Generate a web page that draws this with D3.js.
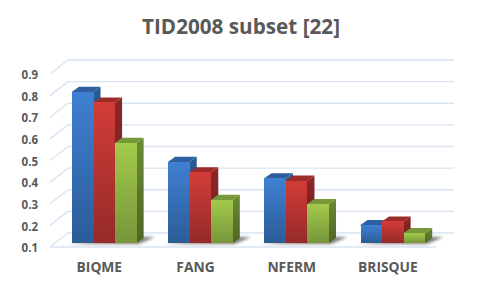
<!DOCTYPE html>
<html>
<head>
<meta charset="utf-8">
<title>TID2008 subset [22]</title>
<script src="https://d3js.org/d3.v7.min.js"></script>
<style>
  html, body { margin: 0; padding: 0; background: #fff; }
  svg { display: block; }
  text { font-family: "Open Sans", sans-serif; fill: #595959; }
</style>
</head>
<body>
<div id="main-container"></div>
<script>
var categories = ['BIQME', 'FANG', 'NFERM', 'BRISQUE'];
var seriesNames = ['a', 'b', 'c'];
var seriesA = [0.80, 0.476, 0.40, 0.183];
var seriesB = [0.75, 0.427, 0.389, 0.20];
var seriesC = [0.564, 0.30, 0.28, 0.146];
var yTicks = [0.1, 0.2, 0.3, 0.4, 0.5, 0.6, 0.7, 0.8, 0.9];

var width = 482, height = 288;
// wall depth and bar depth of the fake 3d
var wallDx = 18, wallDy = -14;
var barOffX = 0, barOffY = -4, barDx = 7, barDy = -5;

var colors = [
  { top: '#2f5f9e', sideA: '#2b5a94', sideB: '#1f4370', faceA: '#3f80d2', faceB: '#2b5c98' },
  { top: '#9c2c2a', sideA: '#8c2826', sideB: '#6b1e1d', faceA: '#d33c38', faceB: '#952a28' },
  { top: '#77993a', sideA: '#6d8a34', sideB: '#4f6526', faceA: '#a2cb4b', faceB: '#76963a' }
];

var svg = d3.select('#main-container').append('svg')
    .attr('width', width)
    .attr('height', height);

var defs = svg.append('defs');
defs.append('filter').attr('id', 'blur')
    .attr('x', '-30%').attr('y', '-100%').attr('width', '160%').attr('height', '300%')
  .append('feGaussianBlur').attr('stdDeviation', 1.5);

colors.forEach(function(c, i) {
  var face = defs.append('linearGradient').attr('id', 'face' + i)
      .attr('x1', 0).attr('y1', 0).attr('x2', 0).attr('y2', 1);
  face.append('stop').attr('offset', 0).attr('stop-color', c.faceA);
  face.append('stop').attr('offset', 1).attr('stop-color', c.faceB);
  var side = defs.append('linearGradient').attr('id', 'side' + i)
      .attr('x1', 0).attr('y1', 0).attr('x2', 0).attr('y2', 1);
  side.append('stop').attr('offset', 0).attr('stop-color', c.sideA);
  side.append('stop').attr('offset', 1).attr('stop-color', c.sideB);
});

var y = d3.scaleLinear().domain([0.1, 0.9]).range([247, 74]);
var x0 = d3.scaleBand().domain(categories).range([72, 425.2]).paddingInner(0.328);
var x1 = d3.scaleBand().domain(seriesNames).range([0, x0.bandwidth()]);

// title
svg.append('text')
    .attr('x', 241)
    .attr('y', 34)
    .attr('text-anchor', 'middle')
    .attr('font-size', 20.7)
    .attr('font-weight', 700)
    .text('TID2008 subset [22]');

// grid on back wall, floor and left diagonals
var grid = svg.append('g')
    .attr('stroke', '#d9e4f2')
    .attr('stroke-width', 1.3)
    .attr('fill', 'none');

grid.selectAll('line.back')
    .data(yTicks)
    .enter()
    .append('line')
      .attr('class', 'back')
      .attr('x1', 50 + wallDx)
      .attr('x2', 436 + wallDx)
      .attr('y1', function(d) { return y(d) + wallDy; })
      .attr('y2', function(d) { return y(d) + wallDy; });

grid.selectAll('line.diag')
    .data(yTicks)
    .enter()
    .append('line')
      .attr('class', 'diag')
      .attr('x1', 50)
      .attr('x2', 50 + wallDx)
      .attr('y1', function(d) { return y(d); })
      .attr('y2', function(d) { return y(d) + wallDy; });

grid.append('line')
    .attr('x1', 50).attr('x2', 436)
    .attr('y1', y(0.1)).attr('y2', y(0.1));

var yAxis = d3.axisLeft(y).tickValues(yTicks).tickSize(0).tickPadding(0)
    .tickFormat(d3.format('.1f'));
var yG = svg.append('g').attr('transform', 'translate(38,1)').call(yAxis);
yG.select('.domain').remove();
yG.selectAll('text').attr('font-size', 11.5).attr('font-weight', 700).attr('fill', '#595959');

var xAxis = d3.axisBottom(x0).tickSize(0).tickPadding(0);
var xG = svg.append('g').attr('transform', 'translate(-5,262)').call(xAxis);
xG.select('.domain').remove();
xG.selectAll('text').attr('font-size', 13.8).attr('font-weight', 700).attr('fill', '#595959');

var series = [seriesA, seriesB, seriesC];

function poly(points) {
  return points.map(function(p) { return p.join(','); }).join(' ');
}

var groups = svg.selectAll('g.group')
    .data(categories)
    .enter()
    .append('g')
      .attr('class', 'group')
      .attr('transform', function(d) { return 'translate(' + x0(d) + ',0)'; });

// floor shadow under each group
groups.append('polygon')
    .attr('filter', 'url(#blur)')
    .attr('fill', '#666')
    .attr('opacity', 0.85)
    .attr('points', function() {
      var w = x0.bandwidth();
      var b = y(0.1) + barOffY;
      return poly([[-4, b + 1], [w + 2, b + 1], [w + 18, b - 6], [w + 7, b - 6]]);
    });

groups.each(function(cat, ci) {
  var g = d3.select(this);
  seriesNames.forEach(function(name, si) {
    var v = series[si][ci];
    var left = x1(name) + barOffX;
    var right = left + x1.bandwidth();
    var top = y(v) + barOffY;
    var bottom = y(0.1) + barOffY;
    var c = colors[si];

    g.append('polygon')
        .attr('fill', 'url(#side' + si + ')')
        .attr('points', poly([[right - 1, top], [right, top], [right + barDx, top + barDy], [right + barDx, bottom + barDy], [right, bottom], [right - 1, bottom]]));
    // top runs 1px under the face so rounding leaves no gap
    g.append('polygon')
        .attr('fill', c.top)
        .attr('points', poly([[left, top + 1], [left, top], [left + barDx, top + barDy], [right + barDx, top + barDy], [right, top], [right, top + 1]]));
    g.append('rect')
        .attr('x', left)
        .attr('y', top)
        .attr('width', x1.bandwidth())
        .attr('height', bottom - top)
        .attr('shape-rendering', 'crispEdges')
        .attr('fill', 'url(#face' + si + ')');
  });
});
</script>
</body>
</html>
